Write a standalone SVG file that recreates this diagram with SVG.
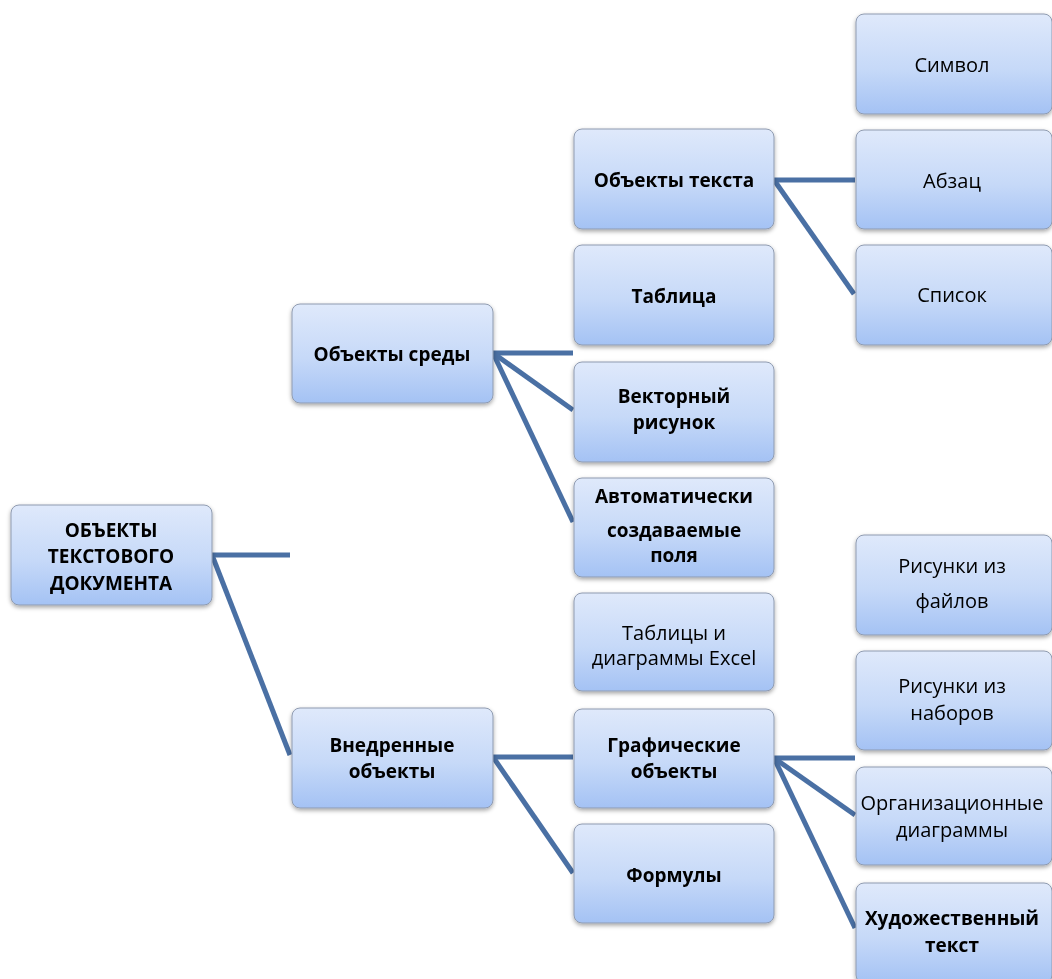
<svg xmlns="http://www.w3.org/2000/svg" width="1052" height="979" viewBox="0 0 1052 979">
<style>
.box{fill:url(#g);stroke:#8f9bb0;stroke-width:1}
.t{font-family:"Open Sans","Noto Sans","Liberation Sans",sans-serif;font-size:20px;fill:#000;text-anchor:middle}
.b{font-weight:bold;font-size:19px}
.c line{stroke:#4a70a4;stroke-width:5;stroke-linecap:butt}
</style>
<defs>
<linearGradient id="g" x1="0" y1="0" x2="0" y2="1">
<stop offset="0" stop-color="#dfe9fb"/>
<stop offset="0.55" stop-color="#c6d9f8"/>
<stop offset="1" stop-color="#a4c2f4"/>
</linearGradient>
<filter id="sh" x="-10%" y="-10%" width="120%" height="130%">
<feDropShadow dx="0" dy="2" stdDeviation="2" flood-color="#000" flood-opacity="0.35"/>
</filter>
</defs>
<rect width="1052" height="979" fill="#fff"/>
<g class="c">
<line x1="212" y1="555" x2="290" y2="555"/>
<line x1="212" y1="555" x2="290" y2="755"/>
<line x1="493" y1="353" x2="573" y2="353"/>
<line x1="493" y1="353" x2="573" y2="410"/>
<line x1="493" y1="353" x2="573" y2="522"/>
<line x1="774" y1="180" x2="855" y2="180"/>
<line x1="774" y1="180" x2="854" y2="294"/>
<line x1="493" y1="757" x2="573" y2="757"/>
<line x1="493" y1="757" x2="573" y2="873"/>
<line x1="774" y1="758" x2="855" y2="758"/>
<line x1="774" y1="758" x2="855" y2="815"/>
<line x1="774" y1="758" x2="855" y2="928"/>
</g>
<g filter="url(#sh)">
<g id="root"><rect class="box" x="11" y="505" width="201" height="100" rx="8"/>
<text class="t b" x="111" y="537">ОБЪЕКТЫ</text><text class="t b" x="111" y="563">ТЕКСТОВОГО</text><text class="t b" x="111" y="590">ДОКУМЕНТА</text></g>
<g id="sreda"><rect class="box" x="292" y="304" width="201" height="99" rx="8"/>
<text class="t b" x="392" y="361">Объекты среды</text></g>
<g id="vnedr"><rect class="box" x="292" y="708" width="201" height="100" rx="8"/>
<text class="t b" x="392" y="752">Внедренные</text><text class="t b" x="392" y="778">объекты</text></g>
<g id="obtext"><rect class="box" x="574" y="129" width="200" height="100" rx="8"/>
<text class="t b" x="674" y="187">Объекты текста</text></g>
<g id="tabl"><rect class="box" x="574" y="245" width="200" height="100" rx="8"/>
<text class="t b" x="674" y="303">Таблица</text></g>
<g id="vector"><rect class="box" x="574" y="362" width="200" height="100" rx="8"/>
<text class="t b" x="674" y="403">Векторный</text><text class="t b" x="674" y="429">рисунок</text></g>
<g id="auto"><rect class="box" x="574" y="478" width="200" height="99" rx="8"/>
<text class="t b" x="674" y="503">Автоматически</text><text class="t b" x="674" y="537">создаваемые</text><text class="t b" x="674" y="562">поля</text></g>
<g id="excel"><rect class="box" x="574" y="593" width="200" height="98" rx="8"/>
<text class="t" x="674" y="640">Таблицы и</text><text class="t" x="674" y="665">диаграммы Excel</text></g>
<g id="graf"><rect class="box" x="574" y="709" width="200" height="99" rx="8"/>
<text class="t b" x="674" y="752">Графические</text><text class="t b" x="674" y="778">объекты</text></g>
<g id="form"><rect class="box" x="574" y="824" width="200" height="99" rx="8"/>
<text class="t b" x="674" y="882">Формулы</text></g>
<g id="simvol"><rect class="box" x="856" y="14" width="196" height="100" rx="8"/>
<text class="t" x="952" y="72">Символ</text></g>
<g id="abzac"><rect class="box" x="856" y="130" width="196" height="99" rx="8"/>
<text class="t" x="952" y="188">Абзац</text></g>
<g id="spisok"><rect class="box" x="856" y="245" width="196" height="100" rx="8"/>
<text class="t" x="952" y="302">Список</text></g>
<g id="risf"><rect class="box" x="856" y="535" width="196" height="100" rx="8"/>
<text class="t" x="952" y="573">Рисунки из</text><text class="t" x="952" y="608">файлов</text></g>
<g id="risn"><rect class="box" x="856" y="651" width="196" height="99" rx="8"/>
<text class="t" x="952" y="693">Рисунки из</text><text class="t" x="952" y="720">наборов</text></g>
<g id="org"><rect class="box" x="856" y="767" width="196" height="98" rx="8"/>
<text class="t" x="952" y="810">Организационные</text><text class="t" x="952" y="837">диаграммы</text></g>
<g id="hud"><rect class="box" x="856" y="883" width="196" height="100" rx="8"/>
<text class="t b" x="952" y="925">Художественный</text><text class="t b" x="952" y="952">текст</text></g>
</g>
</svg>
